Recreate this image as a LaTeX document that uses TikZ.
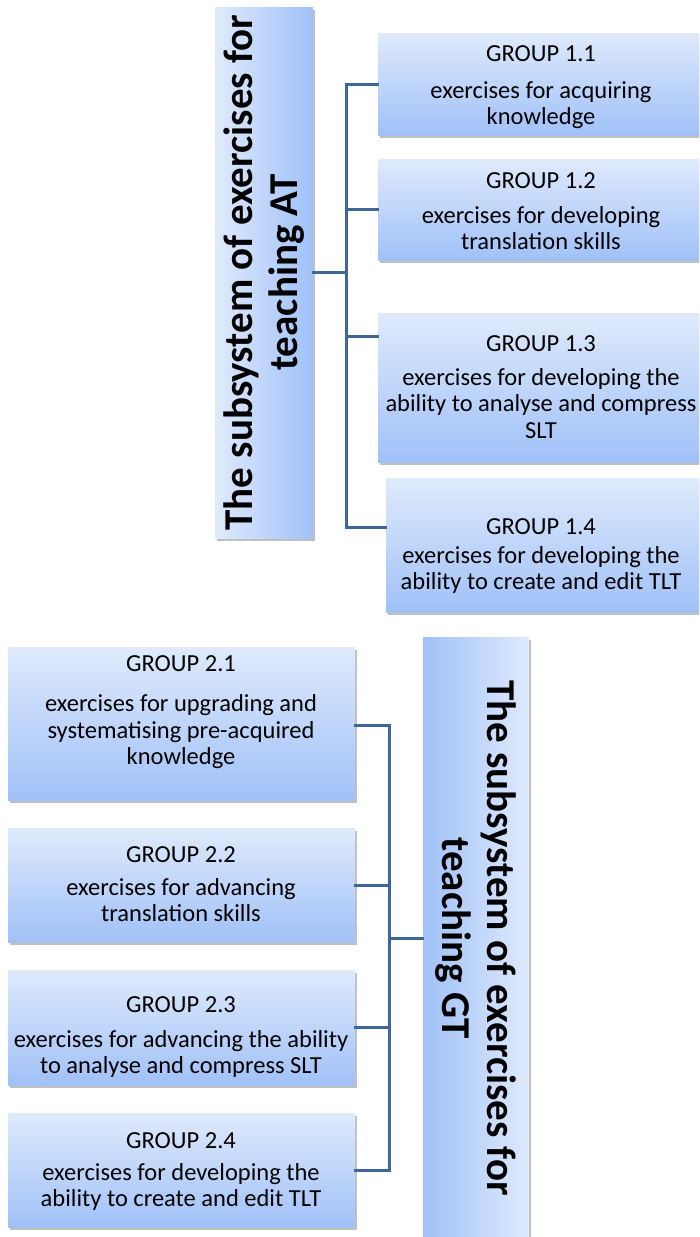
\documentclass[tikz,border=0pt]{standalone}
\usepackage{fontspec}
\setmainfont{Carlito}
\usetikzlibrary{shadows}
\definecolor{boxlight}{RGB}{223,234,252}
\definecolor{boxdark}{RGB}{160,193,248}
\definecolor{linkblue}{RGB}{62,102,150}
\tikzset{
  panel/.style={rectangle, draw=none, inner sep=0pt,
    drop shadow={shadow xshift=2pt, shadow yshift=-3pt, opacity=0.35, fill=black!70}},
  groupbox/.style={panel, top color=boxlight, bottom color=boxdark},
  grouplabel/.style={anchor=base, inner sep=0pt, font=\fontsize{24.5}{26}\selectfont},
  % multi-line texts: anchor=base sits on the baseline of the last line
  grouptext/.style={anchor=base, inner sep=0pt, align=center, font=\fontsize{24.5}{26.5}\selectfont},
  titletext/.style={inner sep=0pt, align=center, font=\fontsize{41}{45}\selectfont\bfseries},
  link/.style={draw=linkblue, line width=3pt, line cap=rect, line join=miter}
}
\begin{document}
\begin{tikzpicture}[x=1pt,y=-1pt]
\useasboundingbox (0,0) rectangle (699,1237);
\clip (0,0) rectangle (699,1237);
\fill[white] (0,0) rectangle (699,1237);

% ---------- subsystem for teaching AT ----------
\node[panel, left color=boxlight, right color=boxdark,
      minimum width=98pt, minimum height=531pt] (at) at (264,272.5) {};
\node[titletext, rotate=90] (attext) at (264.5,272.5)
  {The subsystem of exercises for\\teaching AT};

\node[groupbox, minimum width=327pt, minimum height=102pt] (b11) at (541.5,84) {};
\node[groupbox, minimum width=327pt, minimum height=101pt] (b12) at (541.5,209.5) {};
\node[groupbox, minimum width=327pt, minimum height=149pt] (b13) at (541.5,387.5) {};
\node[groupbox, minimum width=319pt, minimum height=134pt] (b14) at (545.5,545) {};

\node[grouplabel] (g11) at (541,61) {GROUP 1.1};
\node[grouptext]  (t11) at (541,124.5) {exercises for acquiring\\knowledge};
\node[grouplabel] (g12) at (541,188) {GROUP 1.2};
\node[grouptext]  (t12) at (541,249.5) {exercises for developing\\translation skills};
\node[grouplabel] (g13) at (541,351) {GROUP 1.3};
\node[grouptext]  (t13) at (541,438) {exercises for developing the\\ability to analyse and compress\\SLT};
\node[grouplabel] (g14) at (541,534) {GROUP 1.4};
\node[grouptext]  (t14) at (541,589.5) {exercises for developing the\\ability to create and edit TLT};

% bracket joining the AT groups
\coordinate (ja) at (346,272.5);
\coordinate (ja1) at (346,84);
\coordinate (ja3) at (346,336);
\coordinate (ja4) at (346,527);
\draw[link] (at.east) -- (ja);
\draw[link] (ja1 -| b11.west) -- (ja1) -- (ja4) -- (ja4 -| b14.west);
\draw[link] (ja1 |- b12.west) -- (b12.west);
\draw[link] (ja3) -- (ja3 -| b13.west);

% ---------- subsystem for teaching GT ----------
\node[panel, left color=boxdark, right color=boxlight,
      minimum width=106pt, minimum height=602pt] (gt) at (476,938) {};
\node[titletext, rotate=-90] (gttext) at (475.5,938)
  {The subsystem of exercises for\\teaching GT};

\node[groupbox, minimum width=347pt, minimum height=153pt] (b21) at (181.5,723.5) {};
\node[groupbox, minimum width=347pt, minimum height=114pt] (b22) at (181.5,885) {};
\node[groupbox, minimum width=347pt, minimum height=115pt] (b23) at (181.5,1027.5) {};
\node[groupbox, minimum width=347pt, minimum height=114pt] (b24) at (181.5,1170) {};

\node[grouplabel] (g21) at (181,671.5) {GROUP 2.1};
\node[grouptext]  (t21) at (181,764.5) {exercises for upgrading and\\systematising pre-acquired\\knowledge};
\node[grouplabel] (g22) at (181,862) {GROUP 2.2};
\node[grouptext]  (t22) at (181,921.5) {exercises for advancing\\translation skills};
\node[grouplabel] (g23) at (181,1012) {GROUP 2.3};
\node[grouptext]  (t23) at (181,1073.5) {exercises for advancing the ability\\to analyse and compress SLT};
\node[grouplabel] (g24) at (181,1148) {GROUP 2.4};
\node[grouptext]  (t24) at (181,1206.5) {exercises for developing the\\ability to create and edit TLT};

% bracket joining the GT groups
\coordinate (jg) at (389,938);
\coordinate (jg1) at (389,725);
\coordinate (jg2) at (389,885);
\coordinate (jg3) at (389,1027);
\coordinate (jg4) at (389,1170);
\draw[link] (gt.west) -- (jg);
\draw[link] (jg1 -| b21.east) -- (jg1) -- (jg4) -- (jg4 -| b24.east);
\draw[link] (b22.east) -- (jg2);
\draw[link] (jg3 -| b23.east) -- (jg3);
\end{tikzpicture}
\end{document}
